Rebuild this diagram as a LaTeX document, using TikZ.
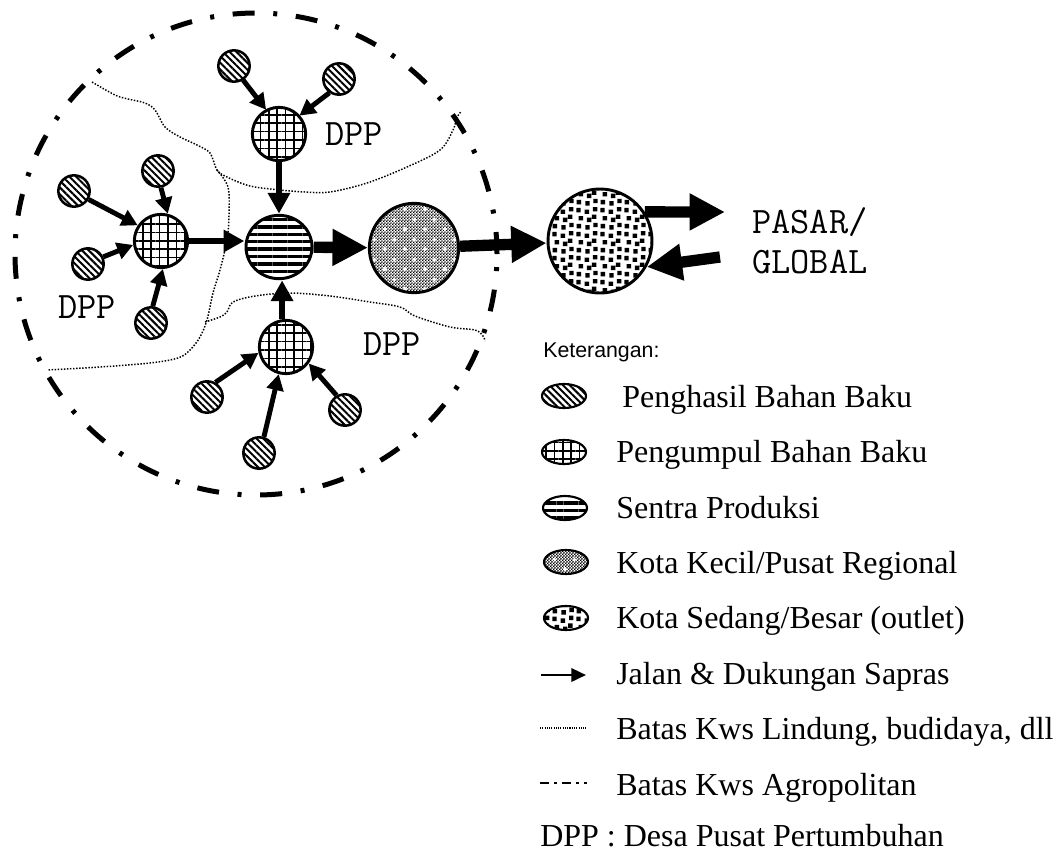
\documentclass[tikz,border=0pt]{standalone}
\usepackage{fontspec}
\setmainfont{Liberation Serif}
\newfontfamily\arialfont{Liberation Sans}
\usetikzlibrary{arrows.meta,patterns,patterns.meta,shapes.geometric}

% fine checkerboard (small town)
\pgfdeclarepatternformonly{checkfine}{\pgfqpoint{0pt}{0pt}}{\pgfqpoint{2.4pt}{2.4pt}}{\pgfqpoint{2.4pt}{2.4pt}}{%
  \pgfpathrectangle{\pgfqpoint{0pt}{0pt}}{\pgfqpoint{1.35pt}{1.35pt}}%
  \pgfpathrectangle{\pgfqpoint{1.2pt}{1.2pt}}{\pgfqpoint{1.35pt}{1.35pt}}%
  \pgfusepath{fill}}
% staggered small crosses, laid over the checkerboard in white
\pgfdeclarepatternformonly{crossgrid}{\pgfqpoint{0pt}{0pt}}{\pgfqpoint{15pt}{15pt}}{\pgfqpoint{15pt}{15pt}}{%
  \pgfpathrectangle{\pgfqpoint{2.2pt}{3.2pt}}{\pgfqpoint{3.1pt}{1.1pt}}%
  \pgfpathrectangle{\pgfqpoint{3.2pt}{2.2pt}}{\pgfqpoint{1.1pt}{3.1pt}}%
  \pgfpathrectangle{\pgfqpoint{9.7pt}{10.7pt}}{\pgfqpoint{3.1pt}{1.1pt}}%
  \pgfpathrectangle{\pgfqpoint{10.7pt}{9.7pt}}{\pgfqpoint{1.1pt}{3.1pt}}%
  \pgfusepath{fill}}
% scattered squares (big town)
\pgfdeclarepatternformonly{scatsquares}{\pgfqpoint{0pt}{0pt}}{\pgfqpoint{18pt}{18pt}}{\pgfqpoint{18pt}{18pt}}{%
  \foreach \qx/\qy in {0.5/1.3, 7.2/0.3, 13.4/2.2, 2.1/7.4, 8.5/6.1, 12.4/8.6, 0.2/13.7, 6.7/12.4, 13.1/14.4}{%
    \pgfpathrectangle{\pgfqpoint{\qx pt}{\qy pt}}{\pgfqpoint{3.4pt}{3.4pt}}}%
  \pgfusepath{fill}}

\begin{document}
\begin{tikzpicture}[x=0.75pt,y=-0.75pt,
  diagfill/.style={preaction={fill=white}, pattern={Lines[angle=-45,distance=3.6pt,line width=1.5pt]}},
  gridfill/.style={preaction={fill=white}, pattern={Hatch[angle=0,distance=6.3pt,line width=1.2pt]}},
  horizfill/.style={preaction={fill=white}, pattern={Lines[angle=0,distance=5.6pt,line width=2.6pt]}},
  checkfill/.style={preaction={fill=white}, preaction={pattern=checkfine, pattern color=black}, pattern=crossgrid, pattern color=white},
  scatfill/.style={preaction={fill=white}, pattern=scatsquares},
  penghasil/.style={circle, draw, line width=1.9pt, minimum size=23.5pt, inner sep=0pt, diagfill},
  pengumpul/.style={circle, draw, line width=2.2pt, minimum size=40pt, inner sep=0pt, gridfill},
  sentra/.style={ellipse, draw, line width=2.2pt, minimum width=49.5pt, minimum height=47.5pt, inner sep=0pt, horizfill},
  kotakecil/.style={circle, draw, line width=2.2pt, minimum size=67pt, inner sep=0pt, checkfill},
  kotabesar/.style={circle, draw, line width=2.2pt, minimum size=78pt, inner sep=0pt, scatfill},
  lgsym/.style={ellipse, draw, line width=1.6pt, minimum width=33pt, minimum height=18pt, inner sep=0pt},
  arrsmall/.style={line width=3.7pt, -{Triangle[length=12pt,width=12.5pt]}},
  arrmid/.style={line width=5pt, -{Triangle[length=15.5pt,width=16pt]}},
  arrbig/.style={line width=8.5pt, -{Triangle[length=26.5pt,width=26pt]}},
  boundary/.style={line width=1.1pt, dash pattern=on 1.1pt off 1.2pt},
  agroline/.style={line width=3.75pt, dash pattern=on 16.5pt off 14pt on 3pt off 14pt},
  dpplabel/.style={font=\ttfamily\fontsize{28pt}{33pt}\selectfont, anchor=base west, inner sep=0pt},
  lgtext/.style={font=\fontsize{24pt}{29pt}\selectfont, anchor=base west, inner sep=0pt}]

\useasboundingbox (0,0) rectangle (1064,854);

% boundaries between protected and cultivated zones
\draw[boundary] plot[smooth, tension=0.55] coordinates {(92,82) (115,95) (128,99) (145,103) (155,110) (165,127) (180,137) (197,145) (210,153) (217,170) (227,177) (250,186) (280,190) (305,192) (330,192) (367,183) (407,167) (440,150) (453,130) (457,117) (461,112)};
\draw[boundary] plot[smooth, tension=0.55] coordinates {(217,170) (228,187) (229,215) (227,240) (220,270) (213,293) (207,320) (200,337) (190,350) (178,358) (150,363) (100,367) (47,370)};
\draw[boundary] plot[smooth, tension=0.55] coordinates {(205,322) (220,317) (227,312) (233,302) (255,296) (290,293) (330,296) (370,302) (400,307) (415,316) (450,327) (475,330) (483,336) (485,341)};

% agropolitan area boundary
\draw[agroline] (256,254) circle [radius=180.75pt];

% centres
\node[sentra]    (s)  at (279,247) {};
\node[kotakecil] (kk) at (414,248) {};
\node[kotabesar] (ks) at (600,241) {};
\node[pengumpul] (g1) at (279,134) {};
\node[pengumpul] (g2) at (161,241) {};
\node[pengumpul] (g3) at (286,347) {};
\node[penghasil] (p1) at (234,66) {};
\node[penghasil] (p2) at (339,79) {};
\node[penghasil] (p3) at (74,191) {};
\node[penghasil] (p4) at (158,171) {};
\node[penghasil] (p5) at (88,264) {};
\node[penghasil] (p6) at (151,323) {};
\node[penghasil] (p7) at (207,397) {};
\node[penghasil] (p8) at (259,453) {};
\node[penghasil] (p9) at (345,410) {};

% roads and support
\draw[arrsmall] (p1.-57) -- (g1.118);
\draw[arrsmall] (p2.235) -- (g1.42);
\draw[arrmid] (g1) -- (s);
\draw[arrsmall] (p3.-30) -- (g2.146);
\draw[arrsmall] (p4.-80) -- (g2.76);
\draw[arrsmall] (p5.25) -- (g2.188);
\draw[arrsmall] (p6.84) -- (g2.-86);
\draw[arrmid] (g2.east) -- (s.west |- g2.east);
\draw[arrsmall] (p7.60) -- (g3.192);
\draw[arrsmall] (p8.73) -- (g3.-105);
\draw[arrsmall] (p9.120) -- (g3.-36);
\draw[arrmid] (g3.98) -- (g3.98 |- s.south);
\draw[arrbig] (s) -- (kk);
\draw[arrbig] (kk) -- (ks);
\coordinate (outtip) at (725,212);
\coordinate (intail) at (720,257);
\draw[arrbig] (ks.33) -- (outtip);
\draw[arrbig] (intail) -- (ks.-29);

% labels
\node[dpplabel] (pasar1) at (752,233) {PASAR/};
\node[dpplabel] (pasar2) at (752,273) {GLOBAL};
\node[dpplabel] (dpp1) at (325,145) {DPP};
\node[dpplabel] (dpp2) at (58,318) {DPP};
\node[dpplabel] (dpp3) at (363,355) {DPP};

% legend
\node[font=\arialfont\fontsize{16pt}{19pt}\selectfont, anchor=base west, inner sep=0pt] (ket) at (543,357) {Keterangan:};
\node[lgsym, diagfill]  (l1) at (564,396) {};
\node[lgsym, gridfill]  (l2) at (564,452) {};
\node[lgsym, horizfill] (l3) at (565,508) {};
\node[lgsym, checkfill] (l4) at (566,562) {};
\node[lgsym, scatfill]  (l5) at (566,618) {};
\coordinate (l6a) at (541,675);
\coordinate (l6b) at (586,675);
\draw[line width=1.9pt, -{Triangle[length=11pt,width=10pt]}] (l6a) -- (l6b);
\coordinate (l7a) at (540,728);
\coordinate (l7b) at (586,728);
\draw[line width=0.8pt, dash pattern=on 0.8pt off 0.9pt] (l7a) -- (l7b);
\coordinate (l8a) at (540,783);
\coordinate (l8b) at (588,783);
\draw[line width=1.1pt, dash pattern=on 6.5pt off 4pt on 2pt off 4pt on 6.5pt off 4pt on 2pt off 4pt on 2pt off 20pt] (l8a) -- (l8b);

\node[lgtext] (t1) at (622,407) {Penghasil Bahan Baku};
\node[lgtext] (t2) at (616,462) {Pengumpul Bahan Baku};
\node[lgtext] (t3) at (616,518) {Sentra Produksi};
\node[lgtext] (t4) at (616,573) {Kota Kecil/Pusat Regional};
\node[lgtext] (t5) at (616,628) {Kota Sedang/Besar (outlet)};
\node[lgtext] (t6) at (616,684) {Jalan \& Dukungan Sapras};
\node[lgtext] (t7) at (616,739) {Batas Kws Lindung, budidaya, dll};
\node[lgtext] (t8) at (616,795) {Batas Kws Agropolitan};
\node[lgtext] (t9) at (540,846) {DPP : Desa Pusat Pertumbuhan};
\end{tikzpicture}
\end{document}
